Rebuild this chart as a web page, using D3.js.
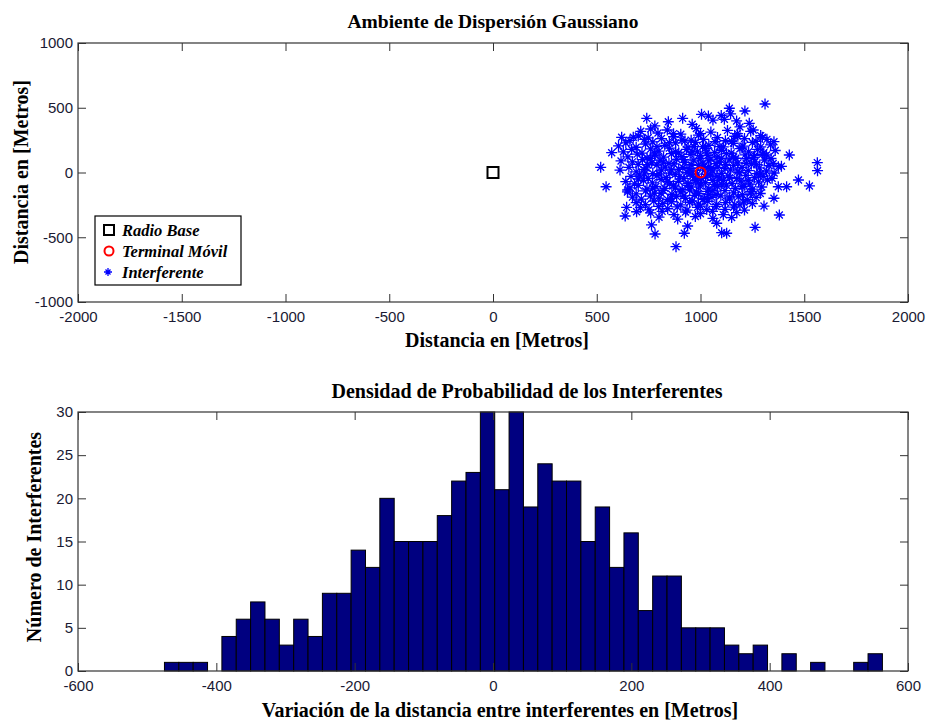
<!DOCTYPE html>
<html>
<head>
<meta charset="utf-8">
<script src="https://cdn.jsdelivr.net/npm/d3@7"></script>
<style>
  body { margin: 0; background: #fff; }
  .tick text { font-family: "Liberation Sans", Arial, sans-serif; font-size: 15px; fill: #1a1a33; }
  .lbl { font-family: "Liberation Serif", "Times New Roman", serif; font-weight: bold; fill: #000; }
</style>
</head>
<body>
<svg id="chart" width="929" height="721"></svg>
<script>
// ---- data ----
var radioBase = [[0, 0]];
var terminalMovil = [[1000, 0]];

// interferer positions [x, y] in metres (estimated from the scatter)
var interferentes = [
  // outer points
  [1311,529],[1139,496],[1214,475],[741,418],[914,418],[1005,449],[1038,436],[760,336],[1115,411],[1174,398],
  [620,272],[676,272],[731,256],[572,153],[519,40],[545,-110],[612,19],[617,89],[649,-135],[644,-269],
  [637,-336],[692,-303],[764,-405],[781,-475],[882,-573],[922,-469],[938,-413],[1078,-392],[1102,-465],[1126,-469],
  [1263,-423],[1380,-328],[1306,-259],[1354,-199],[1375,-110],[1415,-110],[1472,-58],[1525,-104],[1563,76],[1564,14],
  [1428,135],[1375,45],[1354,238],[1318,135],[1298,272],[1254,328],
  // core
  [780,360],[845,392],[960,372],[1060,405],[1190,352],[1235,380],[1100,440],[1145,452],
  [712,318],[795,305],[840,328],[905,296],[980,340],[1050,312],[1130,325],[1178,300],[1242,318],[1290,285],
  [660,248],[700,282],[748,268],[812,262],[870,276],[925,244],[990,288],[1015,256],[1082,270],[1120,245],[1165,280],[1212,262],[1268,240],[1320,256],
  [605,205],[640,228],[690,195],[735,220],[770,236],[828,210],[880,228],[940,196],[975,232],[1040,210],[1070,238],[1110,198],[1158,226],[1205,204],[1250,232],[1290,198],[1338,214],
  [628,160],[668,178],[718,150],[760,182],[800,165],[850,188],[895,152],[932,178],[985,160],[1025,186],[1068,155],[1102,172],[1148,150],[1190,184],[1232,160],[1275,178],[1305,152],[1360,170],
  [650,120],[695,142],[742,112],[780,135],[822,118],[860,145],[910,122],[950,140],[998,108],[1035,132],[1080,118],[1125,146],[1170,110],[1215,136],[1255,116],[1298,140],[1340,108],
  [672,82],[720,100],[765,75],[805,96],[848,70],[885,102],[925,78],[968,95],[1012,72],[1050,104],[1092,80],[1138,98],[1180,74],[1222,106],[1262,82],[1308,96],[1350,70],
  [655,40],[700,62],[738,35],[790,58],[830,42],[872,66],[915,38],[955,60],[1040,45],[1075,68],[1118,32],[1160,55],[1200,40],[1245,64],[1285,36],[1330,52],[1390,48],
  [690,5],[728,22],[770,-8],[812,18],[852,-5],[895,25],[935,0],[1060,12],[1102,-6],[1145,20],[1188,-2],[1230,15],[1272,-8],[1318,10],[1355,-4],
  [665,-30],[705,-18],[748,-45],[790,-25],[835,-40],[878,-15],[920,-48],[962,-28],[1005,-45],[1048,-20],[1090,-42],[1132,-26],[1175,-48],[1218,-22],[1260,-40],[1302,-30],[1345,-45],
  [640,-70],[682,-88],[725,-62],[768,-80],[810,-55],[852,-90],[895,-68],[940,-85],[982,-58],[1025,-78],[1068,-92],[1110,-60],[1152,-84],[1195,-66],[1238,-90],[1280,-72],[1322,-58],
  [660,-118],[700,-100],[742,-128],[785,-108],[828,-122],[870,-98],[912,-130],[955,-112],[998,-104],[1040,-126],[1082,-110],[1125,-98],[1168,-124],[1210,-106],[1252,-128],[1295,-112],
  [648,-150],[690,-165],[735,-142],[778,-160],[820,-138],[862,-168],[905,-150],[948,-136],[990,-162],[1032,-146],[1075,-170],[1118,-140],[1160,-158],[1202,-172],[1245,-148],[1288,-162],
  [672,-190],[715,-205],[758,-182],[800,-198],[842,-210],[885,-186],[928,-200],[970,-176],[1012,-208],[1055,-192],[1098,-180],[1140,-204],[1182,-188],[1225,-210],[1268,-192],
  [690,-232],[735,-248],[775,-220],[818,-240],[860,-226],[905,-250],[948,-230],[990,-244],[1035,-222],[1078,-246],[1120,-232],[1165,-250],[1208,-228],[1250,-240],
  [710,-272],[752,-288],[798,-262],[842,-280],[888,-266],[935,-290],[985,-270],[1030,-286],[1075,-262],[1118,-284],[1160,-268],[1212,-290],
  [760,-312],[815,-300],[872,-325],[928,-305],[1000,-318],[1058,-300],[1110,-326],[1175,-310],
  [800,-345],[890,-360],[975,-340],[1060,-355],[1150,-348],
  [960,10],[985,-12],[1020,18],[1035,-15],[945,30],[1010,40],[990,55],[1025,-35],[975,-60],[1050,30],
  [780,150],[820,80],[860,20],[900,-30],[940,-100],[980,-150],[1020,-200],[1060,-140],[1100,-90],[1140,-40],
  [1180,10],[1220,70],[1260,130],[1200,190],[1150,240],[1090,200],[1030,150],[970,200],[910,250],[850,230],
  [790,200],[760,110],[800,-10],[840,-70],[880,-120],[920,-180],[960,-220],[1000,-260],[1040,-170],[1080,-30],
  [1120,60],[1160,120],[1200,-110],[1240,-160],[1190,-250],[880,160],[920,100],[960,160],[1000,130],[1040,90],
  [1080,40],[860,-200],[810,-160],[770,-120],[730,-10],[745,60],[700,-50],[1290,-10],[1270,60],[1230,-60],
  [950,-10],[1000,-90],[1060,-60],[1140,-190],[1100,110],[1010,200],[955,250],[1180,280],[870,300],[1000,300]
];

var topXTicks = [-2000, -1500, -1000, -500, 0, 500, 1000, 1500, 2000];
var topYTicks = [-1000, -500, 0, 500, 1000];

// histogram of x offsets: 50 bins between histMin and histMax
var histMin = -475, histMax = 563;
var histCounts = [1,1,1,0,4,6,8,6,3,6,4,9,9,14,12,20,15,15,15,18,22,23,30,21,30,
                  19,24,22,22,15,19,12,16,7,11,11,5,5,5,3,2,3,0,2,0,1,0,0,1,2];
var histXTicks = [-600, -400, -200, 0, 200, 400, 600];
var histYTicks = [0, 5, 10, 15, 20, 25, 30];

var legendItems = ['Radio Base', 'Terminal Móvil', 'Interferente'];

var svg = d3.select('#chart');
var starPath = 'M-5.5,0H5.5M0,-5.5V5.5M-3.5,-3.5L3.5,3.5M-3.5,3.5L3.5,-3.5';
var plain = function(d) { return String(d); };   // keep ascii hyphen for negatives

// draw a boxed MATLAB-style axes with inward ticks on all sides
function drawBox(g, x, y, xt, yt, w, h) {
    g.append('g').attr('transform', 'translate(0,' + h + ')')
        .call(d3.axisBottom(x).tickValues(xt).tickSizeInner(-8).tickSizeOuter(0).tickPadding(9).tickFormat(plain));
    g.append('g')
        .call(d3.axisTop(x).tickValues(xt).tickSizeInner(-8).tickSizeOuter(0).tickFormat(''));
    g.append('g')
        .call(d3.axisLeft(y).tickValues(yt).tickSizeInner(-8).tickSizeOuter(0).tickPadding(5).tickFormat(plain));
    g.append('g').attr('transform', 'translate(' + w + ',0)')
        .call(d3.axisRight(y).tickValues(yt).tickSizeInner(-8).tickSizeOuter(0).tickFormat(''));
    g.selectAll('.domain').remove();
    g.selectAll('.tick line').attr('stroke', '#333');
    g.append('rect').attr('width', w).attr('height', h)
        .attr('fill', 'none').attr('stroke', '#333').attr('stroke-width', 1.2);
}

// ---------- top: scatter ----------
var m1 = { left: 78, top: 43, width: 830, height: 259 };
var x1 = d3.scaleLinear().domain([-2000, 2000]).range([0, m1.width]);
var y1 = d3.scaleLinear().domain([-1000, 1000]).range([m1.height, 0]);
var g1 = svg.append('g').attr('transform', 'translate(' + m1.left + ',' + m1.top + ')');

g1.selectAll('.star').data(interferentes).enter().append('path')
    .attr('class', 'star')
    .attr('d', starPath)
    .attr('transform', function(d) { return 'translate(' + x1(d[0]) + ',' + y1(d[1]) + ')'; })
    .attr('stroke', '#0000ff').attr('stroke-width', 1.3).attr('fill', 'none');

g1.selectAll('.base').data(radioBase).enter().append('rect')
    .attr('x', function(d) { return x1(d[0]) - 5.5; })
    .attr('y', function(d) { return y1(d[1]) - 5.5; })
    .attr('width', 11).attr('height', 11)
    .attr('fill', 'none').attr('stroke', '#000').attr('stroke-width', 2);

g1.selectAll('.term').data(terminalMovil).enter().append('circle')
    .attr('cx', function(d) { return x1(d[0]); })
    .attr('cy', function(d) { return y1(d[1]); })
    .attr('r', 5).attr('fill', 'none').attr('stroke', '#ff0000').attr('stroke-width', 2);

drawBox(g1, x1, y1, topXTicks, topYTicks, m1.width, m1.height);

// legend
var lg = g1.append('g').attr('transform', 'translate(17,173)');
lg.append('rect').attr('width', 146).attr('height', 69)
    .attr('fill', '#fff').attr('stroke', '#000').attr('stroke-width', 1.2);
lg.append('rect').attr('x', 9).attr('y', 9).attr('width', 10).attr('height', 10)
    .attr('fill', 'none').attr('stroke', '#000').attr('stroke-width', 2);
lg.append('circle').attr('cx', 14).attr('cy', 35).attr('r', 4.5)
    .attr('fill', 'none').attr('stroke', '#ff0000').attr('stroke-width', 2);
lg.append('path').attr('d', 'M-4,0H4M0,-4V4M-2.5,-2.5L2.5,2.5M-2.5,2.5L2.5,-2.5')
    .attr('transform', 'translate(13,56)').attr('stroke', '#0000ff').attr('stroke-width', 1.3);
lg.selectAll('.lt').data(legendItems).enter().append('text')
    .attr('class', 'lbl')
    .attr('x', 27).attr('y', function(d, i) { return 20 + i * 21; })
    .style('font-size', '16.5px').style('font-style', 'italic')
    .text(function(d) { return d; });

svg.append('text').attr('class', 'lbl').attr('x', 493).attr('y', 28)
    .attr('text-anchor', 'middle').style('font-size', '19.5px')
    .text('Ambiente de Dispersión Gaussiano');
svg.append('text').attr('class', 'lbl').attr('x', 497).attr('y', 347)
    .attr('text-anchor', 'middle').style('font-size', '20px')
    .text('Distancia en [Metros]');
svg.append('text').attr('class', 'lbl')
    .attr('transform', 'translate(28,172) rotate(-90)')
    .attr('text-anchor', 'middle').style('font-size', '20px')
    .text('Distancia en [Metros]');

// ---------- bottom: histogram ----------
var m2 = { left: 78, top: 412, width: 830, height: 259 };
var x2 = d3.scaleLinear().domain([-600, 600]).range([0, m2.width]);
var y2 = d3.scaleLinear().domain([0, 30]).range([m2.height, 0]);
var g2 = svg.append('g').attr('transform', 'translate(' + m2.left + ',' + m2.top + ')');

var binW = (histMax - histMin) / histCounts.length;
var bins = histCounts.map(function(c, i) {
    return { x0: histMin + i * binW, x1: histMin + (i + 1) * binW, n: c };
});

g2.selectAll('.bar').data(bins.filter(function(d) { return d.n > 0; })).enter().append('rect')
    .attr('class', 'bar')
    .attr('x', function(d) { return x2(d.x0); })
    .attr('width', function(d) { return x2(d.x1) - x2(d.x0); })
    .attr('y', function(d) { return y2(d.n); })
    .attr('height', function(d) { return y2(0) - y2(d.n); })
    .attr('fill', '#000080').attr('stroke', '#000').attr('stroke-width', 1);

drawBox(g2, x2, y2, histXTicks, histYTicks, m2.width, m2.height);

svg.append('text').attr('class', 'lbl').attr('x', 527).attr('y', 398)
    .attr('text-anchor', 'middle').style('font-size', '20px')
    .text('Densidad de Probabilidad de los Interferentes');
svg.append('text').attr('class', 'lbl').attr('x', 500).attr('y', 717)
    .attr('text-anchor', 'middle').style('font-size', '20px')
    .text('Variación de la distancia entre interferentes en [Metros]');
svg.append('text').attr('class', 'lbl')
    .attr('transform', 'translate(41,537) rotate(-90)')
    .attr('text-anchor', 'middle').style('font-size', '20px')
    .text('Número de Interferentes');
</script>
</body>
</html>
